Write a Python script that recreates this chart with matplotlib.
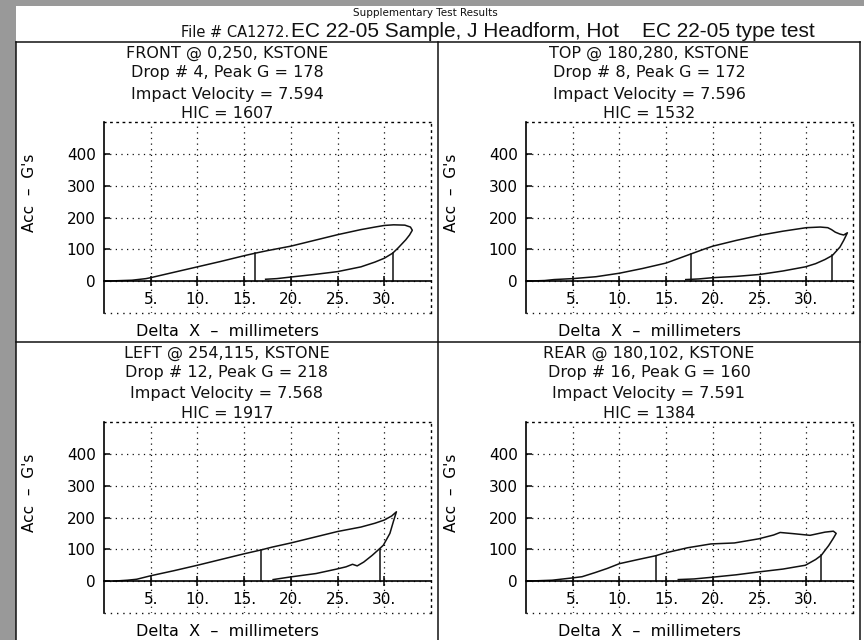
import numpy as np
import matplotlib.pyplot as plt
from matplotlib.lines import Line2D
from matplotlib.patches import Rectangle

#----- data (Delta X in mm, Acc in G's)
front_x = [0, 1, 3, 4.5, 5, 7.5, 10, 12.5, 15, 16.2, 17.5, 20, 22.5, 25, 27.5, 29, 30, 31, 32.2,
           32.8, 33, 32.7, 32.3, 31.5, 30.9, 30, 29, 27.5, 25, 22.5, 20, 18.5, 17.3]
front_y = [0, 1, 3, 8, 11, 28, 45, 62, 80, 88, 96, 110, 128, 146, 162, 170, 175, 177, 176,
           170, 160, 145, 130, 105, 88, 72, 60, 45, 30, 21, 13, 8, 6]

top_x = [0, 2, 3, 5, 7.5, 10, 12.5, 15, 17.7, 19, 20, 22.5, 25, 27.5, 30, 31.5, 32.3, 32.7,
         33.1, 33.6, 34.0, 34.4, 34.0, 33.6, 33.2, 32.8, 32, 31, 29.9, 27.5, 25, 22.5, 20, 18.5, 17.1]
top_y = [0, 2, 5, 8, 14, 25, 40, 57, 86, 100, 110, 128, 144, 157, 168, 170, 168, 162,
         154, 148, 145, 152, 128, 107, 94, 81, 68, 55, 45, 32, 21, 15, 11, 7, 5]

left_x = [1, 2.5, 3.5, 5, 7.5, 10, 12.5, 15, 16.8, 18, 20, 22.5, 25, 27.5, 29, 30, 30.8, 31.3,
          31.0, 30.6, 29.9, 29.5, 28.7, 27.8, 27.1, 26.6, 25.9, 24.9, 22.7, 19.9, 18.1]
left_y = [0, 3, 6, 17, 33, 50, 68, 86, 98, 107, 120, 138, 156, 170, 182, 192, 205, 218,
          190, 150, 113, 102, 81, 60, 48, 53, 45, 38, 24, 13, 5]

rear_x = [0, 2.8, 4.9, 6, 7.4, 8.7, 10, 12, 13.9, 14.8, 17.3, 19.8, 22.3, 24.9, 26.5, 27.2,
          28.7, 30.4, 32, 32.9, 33.2, 32.9, 32.4, 31.6, 31, 29.9, 27.5, 24.9, 22.5, 19.8, 18, 16.3]
rear_y = [0, 3, 10, 14, 27, 40, 55, 68, 80, 88, 105, 117, 120, 133, 145, 153,
          149, 144, 154, 157, 150, 135, 112, 81, 68, 50, 38, 29, 20, 12, 7, 5]

# HIC window markers: (x, height)
front_hic = [(16.2, 88), (30.9, 88)]
top_hic = [(17.7, 86), (32.8, 81)]
left_hic = [(16.8, 98), (29.5, 102)]
rear_hic = [(13.9, 80), (31.6, 81)]

titles = [
    ['FRONT @ 0,250, KSTONE', 'Drop # 4, Peak G = 178', 'Impact Velocity = 7.594', 'HIC = 1607'],
    ['TOP @ 180,280, KSTONE', 'Drop # 8, Peak G = 172', 'Impact Velocity = 7.596', 'HIC = 1532'],
    ['LEFT @ 254,115, KSTONE', 'Drop # 12, Peak G = 218', 'Impact Velocity = 7.568', 'HIC = 1917'],
    ['REAR @ 180,102, KSTONE', 'Drop # 16, Peak G = 160', 'Impact Velocity = 7.591', 'HIC = 1384'],
]
x_ticks = [5, 10, 15, 20, 25, 30]
x_tick_labels = ['5.', '10.', '15.', '20.', '25.', '30.']
y_ticks = [0, 100, 200, 300, 400]
y_tick_labels = ['0', '100', '200', '300', '400']

#----- figure in pixel units
W, H = 864, 640
fig = plt.figure(figsize=(W/100, H/100), dpi=100, facecolor='#999999')
plt.rcParams['font.family'] = ['DejaVu Sans']

def fx(px):
    return px / W

def fy(py):
    return 1 - py / H

fig.add_artist(Rectangle((fx(16), 0), fx(848), 634/H, transform=fig.transFigure,
                         facecolor='white', edgecolor='none', zorder=0))
frame = dict(color='#111111', lw=1.1, transform=fig.transFigure)
fig.add_artist(Line2D([fx(16), fx(860)], [fy(42), fy(42)], **frame))
fig.add_artist(Line2D([fx(16), fx(860)], [fy(342), fy(342)], **frame))
fig.add_artist(Line2D([fx(16), fx(16)], [fy(42), 0], **frame))
fig.add_artist(Line2D([fx(860), fx(860)], [fy(42), 0], **frame))
fig.add_artist(Line2D([fx(438), fx(438)], [fy(42), 0], **frame))

fig.text(fx(425), fy(13), 'Supplementary Test Results', ha='center', va='center',
         fontsize=7.5, color='#111111')
fig.text(fx(289), fy(37), 'File # CA1272.', ha='right', va='baseline',
         fontsize=10.5, color='#111111')
fig.text(fx(291), fy(37), 'EC 22-05 Sample, J Headform, Hot    EC 22-05 type test',
         ha='left', va='baseline', fontsize=15, color='#111111',
         family=['Liberation Sans Narrow', 'Liberation Sans'])

panels = [
    (104, 122, front_x, front_y, front_hic, titles[0]),
    (526, 122, top_x, top_y, top_hic, titles[1]),
    (104, 422, left_x, left_y, left_hic, titles[2]),
    (526, 422, rear_x, rear_y, rear_hic, titles[3]),
]
dots = (0, (1, 3.5))
for left, top, xs, ys, hic, ttl in panels:
    ax = fig.add_axes([fx(left), fy(top + 191), 327/W, 191/H])
    ax.set_xlim(0, 35)
    ax.set_ylim(-100, 500)
    ax.grid(True, color='#111111', ls=dots, lw=0.9)
    ax.plot(xs, ys, color='#111111', lw=1.1)
    for hx, hy in hic:
        ax.plot([hx, hx], [0, hy], color='#111111', lw=1.1)
    ax.plot([0, 35], [-100, -100], color='#111111', ls=dots, lw=1.0, clip_on=False)
    ax.spines['bottom'].set_position(('data', 0))
    ax.spines['bottom'].set_linewidth(1.2)
    ax.spines['left'].set_linewidth(1.2)
    for s in ['top', 'right']:
        ax.spines[s].set_linestyle(dots)
        ax.spines[s].set_linewidth(1.0)
    ax.set_xticks(x_ticks, x_tick_labels)
    ax.set_yticks(y_ticks, y_tick_labels)
    ax.tick_params(axis='x', direction='inout', length=7, width=1.1, pad=4, labelsize=11)
    ax.tick_params(axis='y', direction='in', length=4, width=1.1, pad=6, labelsize=11)
    ax.set_ylabel("Acc  –  G's", fontsize=11)
    ax.yaxis.set_label_coords(-0.205, 0.63)
    ax.set_xlabel('Delta  X  –  millimeters', fontsize=11.5)
    ax.xaxis.set_label_coords(0.376, -0.055)
    # four header lines, 69/49/28/8 px above the plot box
    for line, dy in zip(ttl, [69, 49, 28, 8]):
        ax.text(0.376, 1 + dy / 191, line, transform=ax.transAxes,
                ha='center', va='center', fontsize=11.5, color='#111111')

plt.savefig('out.png', dpi=100, facecolor=fig.get_facecolor())
